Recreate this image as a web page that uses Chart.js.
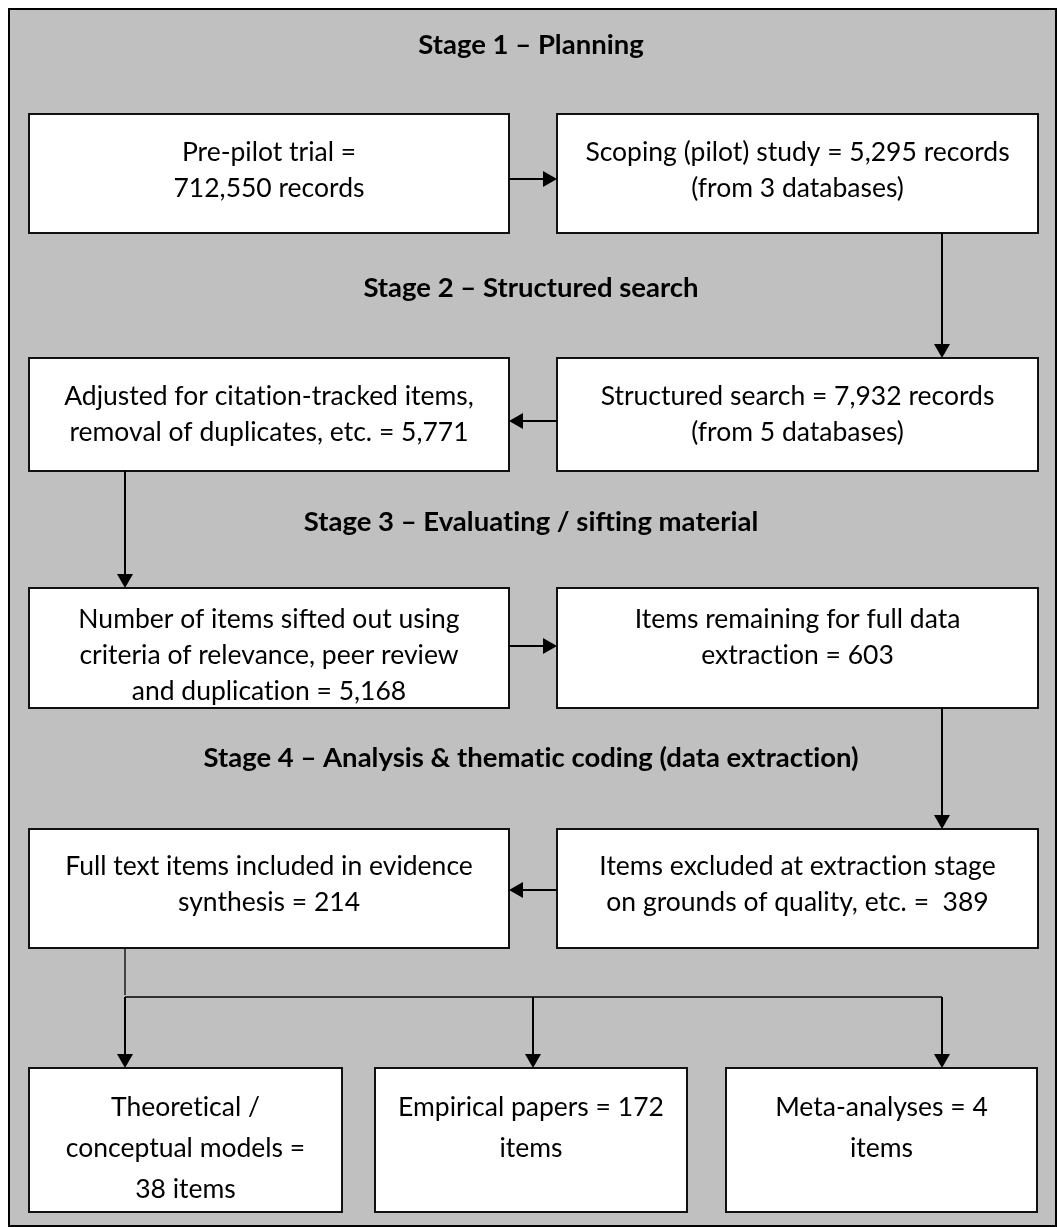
<!DOCTYPE html>
<html>
<head>
<meta charset="utf-8">
<script src="https://cdn.jsdelivr.net/npm/chart.js@4.4.1/dist/chart.umd.min.js"></script>
<style>
  html, body { margin: 0; padding: 0; background: #fff; }
  #flow { display: block; }
</style>
</head>
<body>
<canvas id="flow" width="1057" height="1227"></canvas>
<script>
// stage headings, top to bottom
const stageTitles = [
    'Stage 1 \u2013 Planning',
    'Stage 2 \u2013 Structured search',
    'Stage 3 \u2013 Evaluating / sifting material',
    'Stage 4 \u2013 Analysis & thematic coding (data extraction)'
];

// text of each box
const boxLabels = [
    ['Pre-pilot trial =', '712,550 records'],
    ['Scoping (pilot) study = 5,295 records', '(from 3 databases)'],
    ['Structured search = 7,932 records', '(from 5 databases)'],
    ['Adjusted for citation-tracked items,', 'removal of duplicates, etc. = 5,771'],
    ['Number of items sifted out using', 'criteria of relevance, peer review', 'and duplication = 5,168'],
    ['Items remaining for full data', 'extraction = 603'],
    ['Items excluded at extraction stage', 'on grounds of quality, etc. =  389'],
    ['Full text items included in evidence', 'synthesis = 214'],
    ['Theoretical /', 'conceptual models =', '38 items'],
    ['Empirical papers = 172', 'items'],
    ['Meta-analyses = 4', 'items']
];

// layout (in scale units): box rect + first text line + line gap
const boxRects = [
    [29, 114, 509, 233, 152, 36],
    [557, 114, 1038, 233, 152, 36],
    [557, 358, 1038, 471, 396, 36],
    [29, 358, 509, 471, 396, 36],
    [29, 588, 509, 708, 619, 36],
    [557, 588, 1038, 708, 619, 36],
    [557, 829, 1038, 948, 866, 36],
    [29, 829, 509, 948, 866, 36],
    [29, 1068, 342, 1212, 1107, 41],
    [375, 1068, 687, 1212, 1107, 41],
    [726, 1068, 1037, 1212, 1107, 41]
];
const stageY = [45, 288, 522, 758];

// arrows: [x0, y0, x1, y1], head at the end
const arrows = [
    [509, 179, 557, 179],
    [942, 233, 942, 358],
    [557, 421, 509, 421],
    [125, 471, 125, 588],
    [509, 646, 557, 646],
    [942, 708, 942, 829],
    [557, 890, 509, 890],
    [125, 997, 125, 1068],
    [533, 997, 533, 1068],
    [942, 997, 942, 1068]
];
// plain connector lines
const links = [
    [125, 948, 125, 995],
    [125, 997, 942, 997]
];

// keep "ti" / "fi" unjoined like the original font
const noLig = s => s.replace(/([tf])([ifl])/g, '$1\u200C$2');

const flowPlugin = {
    id: 'flow',
    beforeDraw(chart) {
        const ctx = chart.ctx;
        const sx = chart.scales.x, sy = chart.scales.y;
        const px = v => sx.getPixelForValue(v);
        const py = v => sy.getPixelForValue(v);

        ctx.save();
        ctx.fillStyle = '#ffffff';
        ctx.fillRect(0, 0, chart.width, chart.height);

        // outer frame
        ctx.fillStyle = '#c0c0c0';
        ctx.strokeStyle = '#000';
        ctx.lineWidth = 2;
        ctx.fillRect(px(9), py(9), px(1056) - px(9), py(1226) - py(9));
        ctx.strokeRect(px(9), py(9), px(1056) - px(9), py(1226) - py(9));

        // stage headings
        ctx.fillStyle = '#000';
        ctx.textAlign = 'center';
        ctx.textBaseline = 'middle';
        ctx.font = 'bold 27.5px Lato';
        stageTitles.forEach((t, i) => ctx.fillText(noLig(t), px(531), py(stageY[i])));

        // boxes
        ctx.font = '26.5px Lato';
        boxLabels.forEach((lines, i) => {
            const [x0, y0, x1, y1, ty, gap] = boxRects[i];
            ctx.fillStyle = '#fff';
            ctx.fillRect(px(x0), py(y0), px(x1) - px(x0), py(y1) - py(y0));
            ctx.strokeStyle = '#111';
            ctx.lineWidth = 2;
            ctx.strokeRect(px(x0), py(y0), px(x1) - px(x0), py(y1) - py(y0));
            ctx.fillStyle = '#000';
            lines.forEach((l, j) => ctx.fillText(noLig(l), px((x0 + x1) / 2), py(ty + j * gap)));
        });

        // thin connectors
        ctx.strokeStyle = '#000';
        ctx.lineWidth = 1.3;
        links.forEach(([x0, y0, x1, y1]) => {
            ctx.beginPath();
            ctx.moveTo(px(x0), py(y0));
            ctx.lineTo(px(x1), py(y1));
            ctx.stroke();
        });

        // arrows
        ctx.lineWidth = 2;
        ctx.fillStyle = '#000';
        arrows.forEach(([x0, y0, x1, y1]) => {
            const a = Math.atan2(py(y1) - py(y0), px(x1) - px(x0));
            const hl = 14, hw = 8;
            const ex = px(x1), ey = py(y1);
            const bx = ex - hl * Math.cos(a), by = ey - hl * Math.sin(a);
            ctx.beginPath();
            ctx.moveTo(px(x0), py(y0));
            ctx.lineTo(bx, by);
            ctx.stroke();
            ctx.beginPath();
            ctx.moveTo(ex, ey);
            ctx.lineTo(bx - hw * Math.sin(a), by + hw * Math.cos(a));
            ctx.lineTo(bx + hw * Math.sin(a), by - hw * Math.cos(a));
            ctx.closePath();
            ctx.fill();
        });
        ctx.restore();
    }
};

new Chart(document.getElementById('flow').getContext('2d'), {
    type: 'scatter',
    data: { datasets: [{ data: [], pointRadius: 0 }] },
    options: {
        responsive: false,
        animation: false,
        devicePixelRatio: 1,
        layout: { padding: 0 },
        plugins: { legend: { display: false }, tooltip: { enabled: false } },
        scales: {
            x: { type: 'linear', min: 0, max: 1057, display: false },
            y: { type: 'linear', min: 0, max: 1227, reverse: true, display: false }
        }
    },
    plugins: [flowPlugin]
});
</script>
</body>
</html>
